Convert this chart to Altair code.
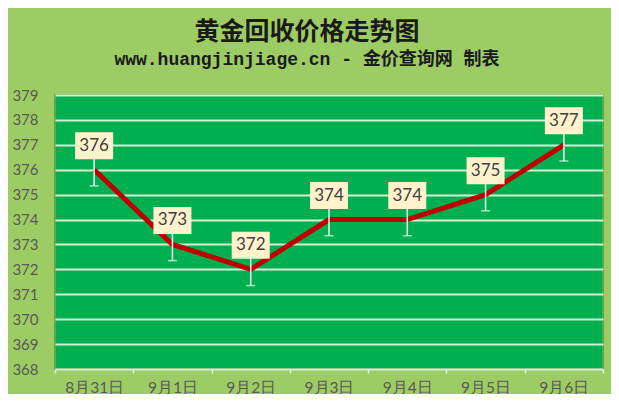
import altair as alt
import pandas as pd

dates = ["8月31日", "9月1日", "9月2日", "9月3日", "9月4日", "9月5日", "9月6日"]
prices = [376, 373, 372, 374, 374, 375, 377]
errs = [0.65, 0.65, 0.65, 0.65, 0.65, 0.65, 0.65]
y_ticks = [368, 369, 370, 371, 372, 373, 374, 375, 376, 377, 378, 379]

df = pd.DataFrame({"date": dates, "price": prices, "err": errs})

x_enc = alt.X(
    "date:N",
    sort=dates,
    scale=alt.Scale(type="band", paddingInner=0, paddingOuter=0),
    axis=alt.Axis(
        title=None,
        labelAngle=0,
        labelFont="Lato",
        labelFontSize=15.5,
        labelColor="#595959",
        labelPadding=7,
        labelOverlap=False,
        tickBand="extent",
        tickColor="#e6f4e6",
        tickSize=4,
        tickWidth=1.5,
        domain=False,
        grid=False,
    ),
)
y_scale = alt.Scale(domain=[368, 379], nice=False, zero=False)
y_axis = alt.Axis(
    title=None,
    values=y_ticks,
    labelFont="Lato",
    labelFontSize=15,
    labelColor="#595959",
    labelPadding=17,
    labelOverlap=False,
    labelBound=False,
    labelFlush=False,
    ticks=False,
    domain=False,
    grid=True,
    gridColor="#d6eed6",
    gridWidth=2,
)

base = alt.Chart(df).encode(x=x_enc)

line = base.mark_line(color="#C00000", strokeWidth=5).encode(
    y=alt.Y("price:Q", scale=y_scale, axis=y_axis)
)

err_base = base.transform_calculate(
    lo="datum.price - datum.err", hi="datum.price + datum.err"
)
err_rule = err_base.mark_rule(color="#eef7ee", strokeWidth=1.5).encode(
    y=alt.Y("lo:Q", scale=y_scale, axis=y_axis), y2="hi:Q"
)
err_cap_lo = err_base.mark_tick(color="#eef7ee", thickness=1.5, size=9).encode(
    y=alt.Y("lo:Q", scale=y_scale, axis=y_axis)
)
err_cap_hi = err_base.mark_tick(color="#eef7ee", thickness=1.5, size=9).encode(
    y=alt.Y("hi:Q", scale=y_scale, axis=y_axis)
)

boxes = base.mark_point(
    shape="M-1,-0.71L1,-0.71L1,0.71L-1,0.71Z",
    size=1444,
    filled=True,
    fill="#FFF2CC",
    opacity=1,
    strokeWidth=0,
    yOffset=-24,
).encode(y=alt.Y("price:Q", scale=y_scale, axis=y_axis))

labels = base.mark_text(
    font="Lato", fontSize=17, color="#404040", yOffset=-24, baseline="middle"
).encode(y=alt.Y("price:Q", scale=y_scale, axis=y_axis), text="price:Q")

chart = (
    alt.layer(line, err_rule, err_cap_lo, err_cap_hi, boxes, labels)
    .properties(
        width=548,
        height=274,
        padding={"left": 47, "top": 87, "right": 8, "bottom": 25},
        autosize=alt.AutoSizeParams(type="none"),
        background="#9DCC64",
        title=alt.TitleParams(
            text="黄金回收价格走势图",
            subtitle="www.huangjinjiage.cn - 金价查询网 制表",
            anchor="middle",
            dx=-22,
            offset=19,
            font="Noto Sans CJK SC",
            fontSize=25,
            fontWeight="bold",
            color="#1a1a1a",
            subtitleFont="Liberation Mono, Noto Sans CJK SC",
            subtitleFontSize=18,
            subtitleFontWeight="bold",
            subtitleColor="#1a1a1a",
            subtitlePadding=6,
        ),
    )
    .configure_view(fill="#00B050", stroke="#5aa848", strokeWidth=2)
)

chart.save("out.html", embed_options={"renderer": "svg", "actions": False})
